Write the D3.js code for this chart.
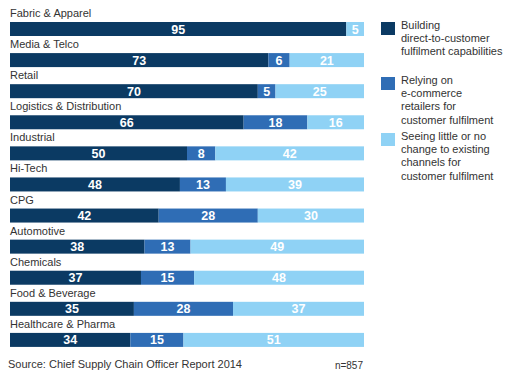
<!DOCTYPE html>
<html><head><meta charset="utf-8">
<script src="https://cdn.jsdelivr.net/npm/d3@7"></script>
<style>body{margin:0;background:#fff}svg{display:block;font-family:"Liberation Sans",Arial,sans-serif}</style>
</head><body><svg id="c" width="515" height="379"></svg>
<script>
const categories = ["Fabric & Apparel","Media & Telco","Retail","Logistics & Distribution","Industrial","Hi-Tech","CPG","Automotive","Chemicals","Food & Beverage","Healthcare & Pharma"];
const building = [95,73,70,66,50,48,42,38,37,35,34];
const relying = [0,6,5,18,8,13,28,13,15,28,15];
const seeing = [5,21,25,16,42,39,30,49,48,37,51];
const seriesNames = [
  ["Building","direct-to-customer","fulfilment capabilities"],
  ["Relying on","e-commerce","retailers for","customer fulfilment"],
  ["Seeing little or no","change to existing","channels for","customer fulfilment"]
];
const colors = ["#0b3a63","#2f6db5","#8fd2f5"];
const source = "Source: Chief Supply Chain Officer Report 2014";
const nLabel = "n=857";

const svg = d3.select("#c");
const x = d3.scaleLinear().domain([0,100]).range([10,364]);
const y = d3.scaleBand().domain(categories).range([13,355]).paddingInner(0).paddingOuter(0);
const barTop = d => y(d) + 9;
const barH = 14;

const rows = categories.map((c,i)=>({cat:c, vals:[building[i],relying[i],seeing[i]]}));
const g = svg.append("g");
rows.forEach(r=>{
  g.append("text").attr("x",10).attr("y",barTop(r.cat)-5)
    .attr("font-size",11).attr("fill","#333").text(r.cat);
  let acc=0;
  r.vals.forEach((v,k)=>{
    if(v<=0) return;
    g.append("rect").attr("x",x(acc)).attr("y",barTop(r.cat))
      .attr("width",x(acc+v)-x(acc)).attr("height",barH).attr("fill",colors[k]);
    g.append("text").attr("x",(x(acc)+x(acc+v))/2).attr("y",barTop(r.cat)+barH/2+4.5)
      .attr("text-anchor","middle").attr("font-size",12.5).attr("font-weight","bold")
      .attr("fill","#fff").text(v);
    acc+=v;
  });
});

const legTops = [22,77,133];
seriesNames.forEach((lines,k)=>{
  svg.append("rect").attr("x",381).attr("y",legTops[k]).attr("width",14).attr("height",13).attr("fill",colors[k]);
  const t = svg.append("text").attr("x",401).attr("y",legTops[k]+7).attr("font-size",11).attr("fill","#333");
  lines.forEach((l,j)=>t.append("tspan").attr("x",401).attr("dy",j?13.2:0).text(l));
});

svg.append("text").attr("x",8).attr("y",368).attr("font-size",11).attr("fill","#333").text(source);
svg.append("text").attr("x",363).attr("y",369).attr("text-anchor","end").attr("font-size",10).attr("fill","#333").text(nLabel);
</script></body></html>
